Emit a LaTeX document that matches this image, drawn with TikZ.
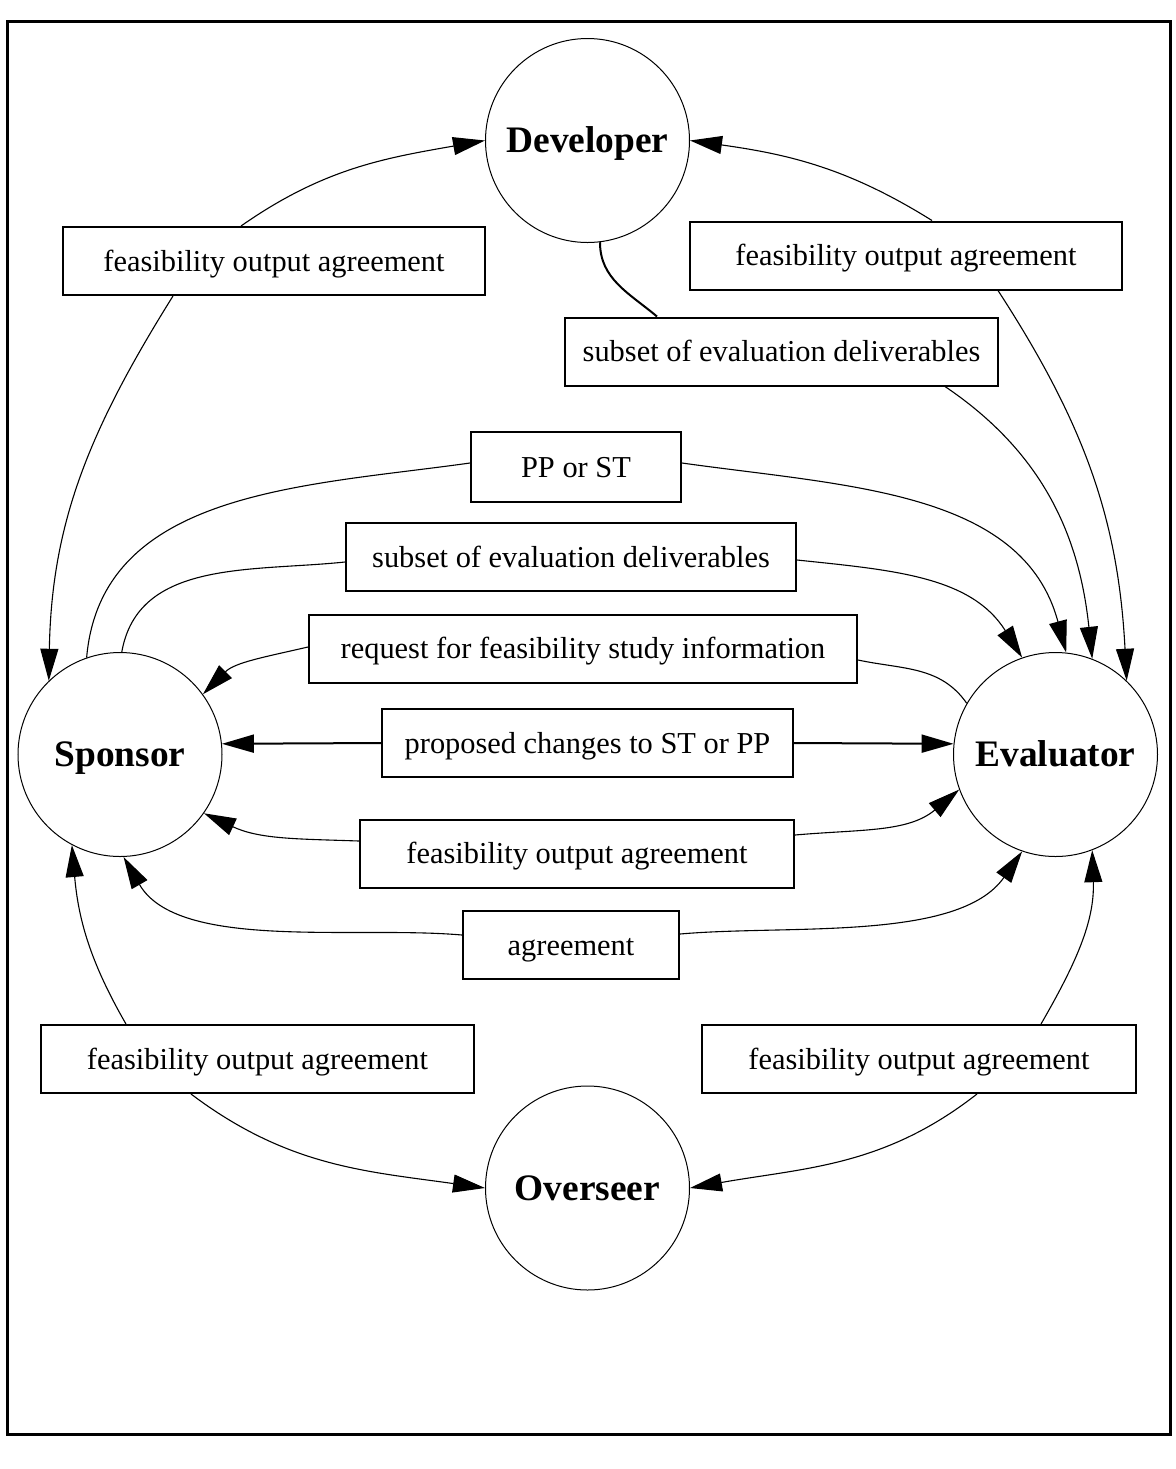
\documentclass[tikz,border=0pt]{standalone}
\usepackage{fontspec}
\setmainfont{Liberation Serif}
\usetikzlibrary{arrows.meta,calc}

\tikzset{
  party/.style={circle, draw, line width=0.5pt, minimum size=102pt, inner sep=0pt,
    font=\fontsize{18.7}{22}\selectfont\bfseries, text height=12.4pt, text depth=0pt},
  flowbox/.style={rectangle, draw, line width=1pt, minimum height=34pt, inner sep=0pt,
    font=\fontsize{15.2}{18}\selectfont, text height=10pt, text depth=0pt},
  link/.style={line width=0.55pt},
  flow/.style={link, -{Triangle[length=16pt,width=9pt]}}
}

\begin{document}
\begin{tikzpicture}[x=0.5pt,y=0.5pt]
          \useasboundingbox (0,0) rectangle (1176,-1469);
          \draw[line width=1.5pt] (7.5,-21) rectangle (1170,-1434);

          \node[party] (dev) at (587.5,-140.5) {Developer};
          \node[party] (spon) at (120,-754.5) {Sponsor};
          \node[party] (eval) at (1055.5,-754.5) {Evaluator};
          \node[party] (over) at (587.5,-1188) {Overseer};

          \node[flowbox, minimum width=211pt] (fdl) at (274,-261) {feasibility output agreement};
          \node[flowbox, minimum width=216pt] (fdr) at (906,-255.5) {feasibility output agreement};
          \node[flowbox, minimum width=216.5pt] (dsub) at (781.5,-351.5) {subset of evaluation deliverables};
          \node[flowbox, minimum width=105pt, minimum height=35pt] (ppst) at (576,-467) {PP or ST};
          \node[flowbox, minimum width=225pt] (ssub) at (571,-557) {subset of evaluation deliverables};
          \node[flowbox, minimum width=274pt] (req) at (583,-648.5) {request for feasibility study information};
          \node[flowbox, minimum width=205.5pt] (prop) at (587.5,-743) {proposed changes to ST or PP};
          \node[flowbox, minimum width=217pt] (fmid) at (577,-853.5) {feasibility output agreement};
          \node[flowbox, minimum width=108pt] (agr) at (571,-945) {agreement};
          \node[flowbox, minimum width=216.5pt] (fbl) at (257.5,-1059) {feasibility output agreement};
          \node[flowbox, minimum width=217pt] (fbr) at (919,-1059) {feasibility output agreement};

          \draw[flow] ($(fdl.north)+(-33,0)$) to[out=35,in=190] (dev.180);
          \draw[flow] ($(fdl.south)+(-101,0)$) to[out=238,in=89] (spon.134);
          \draw[flow] ($(fdr.north)+(26,0)$) to[out=148,in=-8] (dev.0);
          \draw[flow] ($(fdr.south)+(92,0)$) to[out=-57,in=93] (eval.46);

          \draw[link, line width=1pt] (dev.277) to[out=-90,in=140] ($(dsub.north)+(-124.5,0)$);
          \draw[flow] ($(dsub.south)+(163.5,0)$) to[out=-34,in=96] (eval.69);

          \draw[link] ($(ppst.west)+(0,4)$) to[out=188,in=85] (spon.109);
          \draw[flow] ($(ppst.east)+(0,4)$) to[out=-8,in=105] (eval.84);
          \draw[link] ($(ssub.west)+(0,-5)$) to[out=186,in=80] (spon.89);
          \draw[flow] ($(ssub.east)+(0,-3)$) to[out=-6,in=122] (eval.109);
          \draw[link] ($(req.east)+(0,-11.5)$) to[out=-12,in=125] (eval.150);
          \draw[flow] ($(req.west)+(0,1.5)$) to[out=193,in=45] (spon.36);

          \draw[flow, line width=1pt] (prop.west) -- (spon.6);
          \draw[flow, line width=1pt] (prop.east) -- (eval.174);

          \draw[flow] ($(fmid.west)+(0,12.5)$) to[out=178,in=-25] (spon.325);
          \draw[flow] ($(fmid.east)+(0,18.5)$) to[out=5,in=220] (eval.200);
          \draw[flow] ($(agr.west)+(0,10)$) to[out=175,in=-60,looseness=0.8] (spon.272);
          \draw[flow] ($(agr.east)+(0,11)$) to[out=5,in=235,looseness=0.8] (eval.251);

          \draw[flow] ($(fbl.north)+(-131.5,0)$) to[out=120,in=-85] (spon.242);
          \draw[flow] ($(fbl.south)+(-66.5,0)$) to[out=-37,in=172] (over.180);
          \draw[flow] ($(fbr.north)+(122,0)$) to[out=60,in=-88] (eval.291);
          \draw[flow] ($(fbr.south)+(58,0)$) to[out=218,in=10] (over.0);
\end{tikzpicture}
\end{document}
